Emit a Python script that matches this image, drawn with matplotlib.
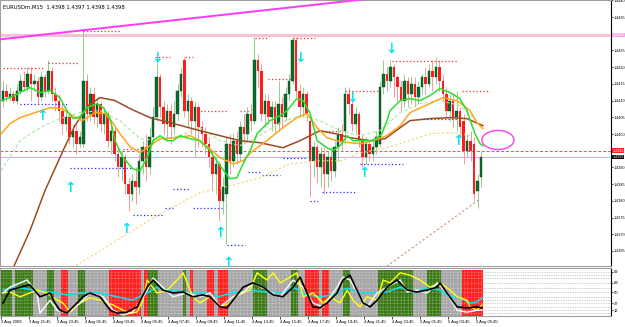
import numpy as np
import matplotlib
matplotlib.use("Agg")
import matplotlib.pyplot as plt
import matplotlib.transforms as mtrans
from matplotlib.patches import Ellipse

# EURUSDm M15, prices stored as pips relative to BASE
BASE = 1.4400

open_pips = [10, 13, 11, 12, 10, 13, 16, 14, 18, 15,
             16, 11, 17, 13, 19, 12, 10, 7, 3, 5,
             -1, 1, -3, -3, 16, 6, 12, 5, 9, 3,
             6, -2, 1, -6, -10, -7, -15, -18, -14, -16,
             -8, -4, -10, -1, 5, 17, 8, 3, 7, 2,
             6, 13, 22, 7, 10, 4, 8, 2, 0, -3,
             -7, -12, -9, -20, -18, -3, -8, -2, -6, 2,
             0, 6, 4, 22, 19, 6, 10, 5, 8, 3,
             9, 5, 12, 16, 28, 13, 8, 12, 4, -8,
             -4, -10, -6, -12, -7, -11, -4, 0, 1, 12,
             9, 3, 6, -2, -7, -3, -6, -4, -3, 14,
             18, 16, 20, 17, 14, 10, 16, 12, 15, 11,
             14, 17, 15, 19, 17, 20, 16, 12, 7, 10,
             5, 7, 4, -5, -2, -3, -17, -13]
close_pips = [13, 11, 12, 10, 13, 16, 14, 18, 15, 16,
              11, 17, 13, 19, 12, 10, 7, 3, 5, -1,
              1, -3, -1, 16, 6, 12, 5, 9, 3, 6,
              -2, 1, -6, -10, -7, -15, -18, -14, -16, -8,
              -4, -10, -1, 5, 17, 8, 3, 7, 2, 6,
              13, 18, 7, 10, 4, 8, 2, 0, -3, -7,
              -12, -9, -20, -16, -3, -8, -2, -6, 2, 0,
              6, 4, 22, 19, 6, 10, 5, 8, 3, 9,
              5, 12, 16, 28, 13, 8, 12, 6, -8, -4,
              -10, -6, -12, -7, -11, -4, 0, -2, 12, 9,
              3, 6, -2, -7, -3, -6, -4, -1, 14, 18,
              16, 20, 17, 14, 10, 16, 12, 15, 11, 14,
              17, 15, 19, 17, 20, 16, 12, 7, 10, 5,
              7, 2, -5, -2, -5, -18, -14, -7]
high_pips = [16, 15, 14, 13, 15, 18, 19, 20, 20, 18,
             17, 19, 18, 22, 20, 14, 12, 9, 7, 6,
             3, 3, 1, 31, 18, 14, 14, 11, 10, 8,
             7, 3, 2, -4, -5, -6, -13, -12, -10, -6,
             -2, 0, 2, 8, 24, 18, 10, 9, 9, 10,
             15, 20, 23, 12, 11, 10, 9, 4, 2, -1,
             -5, -7, -8, -13, -1, 0, 0, 1, 4, 6,
             8, 9, 29, 24, 21, 12, 12, 10, 10, 16,
             11, 14, 18, 29, 29, 15, 14, 13, 5, -2,
             -3, -4, -4, -5, -4, -2, 2, 3, 14, 14,
             13, 8, 7, 0, -1, -2, -2, 1, 16, 22,
             20, 22, 21, 18, 16, 18, 17, 17, 17, 16,
             18, 20, 21, 22, 23, 22, 18, 14, 12, 12,
             13, 8, 6, 0, 1, -1, -12, -5]
low_pips = [8, 10, 10, 9, 9, 12, 13, 13, 10, 13,
            9, 10, 11, 12, 10, 7, 4, 0, 1, -3,
            -4, -6, -4, -4, 4, 4, 3, 2, 1, 0,
            -4, -6, -8, -13, -14, -18, -23, -20, -21, -18,
            -12, -14, -12, -3, 4, 5, 0, -2, -3, 0,
            4, 11, 5, 2, 0, -7, -4, -4, -6, -10,
            -17, -18, -26, -24, -33, -12, -10, -9, -8, -3,
            -2, 1, 3, 14, 4, 2, 3, 1, 0, 1,
            2, 4, 10, 15, 11, 5, 5, 4, -19, -13,
            -15, -16, -18, -16, -14, -13, -8, -5, -3, 6,
            1, 0, -4, -10, -9, -8, -8, -6, -4, 12,
            13, 14, 11, 10, 7, 8, 8, 9, 8, 9,
            12, 12, 14, 13, 15, 13, 10, 5, 4, 2,
            1, -1, -9, -7, -8, -20, -22, -16]

# moving averages as (bar, pips)
ma_fast = [(-0.5, 10), (2, 10.9), (7.7, 13.9), (10.6, 12.4), (13.5, 13), (16.3, 10.9),
           (18.3, 7), (20.1, 4.6), (22.1, 5.2), (24.1, 7.9), (26.9, 9.1), (28.7, 7.9),
           (30.7, 4.6), (32.1, -2), (34.4, -7.1), (37.2, -10.4), (39.3, -11), (41.3, -7.1),
           (43, -2), (45, -0.5), (47, -2), (48.7, -2), (50.7, -0.5), (53.6, -1.4),
           (56.4, -2), (59.3, -5), (62.2, -9.5), (65, -13.4), (67, -13.1), (68.8, -8.9),
           (70.8, -5), (72.8, 0.1), (74.5, 1.9), (76.5, 4), (79.4, 5.5), (81.4, 7),
           (84.2, 10.6), (86, 10), (88, 6.1), (90, -2), (92.8, -4.1), (94.6, -5),
           (96.6, -3.5), (98.6, -0.5), (100.3, -2), (103.2, -2), (106, -2), (108.6, 0.1),
           (110, 4), (110.9, 7), (113.8, 10), (116.6, 10.6), (119.5, 10), (122.3, 11.5),
           (125.2, 13.6), (128.1, 12.4), (130.9, 10.6), (132.9, 7), (135.2, 0.1),
           (136.7, -2.9), (137.5, -3.5)]
ma_mid = [(-0.5, 0.1), (2, 3.1), (4.9, 4.9), (9.2, 6.4), (13.5, 7.9), (16.9, 7.6),
          (19.8, 5.5), (22.6, 4), (26.4, 6.4), (29.2, 6.1), (31.2, 3.7), (33.5, 0.1),
          (36.4, -3.8), (39.3, -5.6), (42.1, -3.5), (45, -1.4), (49.3, -1.1), (53.6, -0.5),
          (56.4, -2), (59.3, -4.4), (62.2, -7.1), (65.9, -8.9), (68.8, -8), (71.6, -5),
          (75.6, -2), (80.2, 1.9), (84.2, 4.9), (87.1, 6.1), (90, 1.9), (92.8, -1.1),
          (96.6, -2.3), (102.3, -2.9), (106, -2), (110, -0.5), (113.8, 2.5), (116.6, 6.4),
          (122.3, 9.1), (126.1, 10.9), (130.1, 10), (133.8, 7), (135.8, 3.4), (137.5, 1.6)]
ma_soft = [(-0.5, -11), (4.9, -2), (10.6, 1.9), (16.3, 4.6), (22.1, 6.4), (27.8, 7),
           (33.5, 4), (39.3, -1.4), (45, -2), (50.7, -0.5), (56.4, 1.9), (62.2, -2),
           (67.9, -3.5), (73.6, -0.5), (79.4, 3.4), (85.1, 5.5), (90.8, 4), (96.6, 1),
           (102.3, -0.5), (108, 1), (113.8, 6.4), (119.5, 9.1), (125.2, 10), (130.9, 8.5),
           (135.2, 4.6)]
ma_long = [(2.9, -40.1), (7.7, -29), (12, -17), (17.2, -5), (20.6, 2.5), (24.4, 8.5),
           (27.8, 10.9), (32.1, 10), (36.4, 7.6), (42.1, 4.9), (49.3, 3), (56.4, 1),
           (62.2, -0.5), (67.9, -2), (73.6, -2.6), (80.2, -4.1), (85.1, -2), (90.8, 1),
           (95.1, 0.1), (99.4, -1.1), (105.2, -2), (109.5, -1.4), (113.8, 1.9), (116.6, 4),
           (122.3, 4.6), (128.1, 4.9), (132.9, 4.6), (137.5, 2.5)]
ma_slow = [(19.8, -40.1), (27.8, -35), (35.5, -29.9), (45, -23.9), (56.4, -17.6),
           (65, -15.5), (73.6, -13.1), (82.2, -8.9), (90.8, -8), (97.4, -8), (101.4, -5.9),
           (110, -4.1), (116.6, -2), (122.3, 0.1), (128.1, 0.4), (130.9, 0.1), (133.8, -0.5)]
channel_low = [(108.9, -40.4), (136.7, -19.4)]
trend_top = [(-1, 28.3), (120, 42.2)]

# dotted levels (bar start, bar end, pips)
resist = [(0, 11.5, 19.9), (12.9, 21.5, 21.1), (22.9, 33.5, 30.7), (34.4, 41.3, -4.4),
          (43.6, 47.9, 22.9), (52.1, 54.4, 22.9), (55.6, 64.5, 7), (65, 67.3, -3.2),
          (67.9, 70.8, 7), (72.2, 75.6, 28.6), (75.9, 82.8, 16.6), (83.1, 89.4, 28.6),
          (90.3, 97.4, 1), (98, 108, 13), (111.5, 130.4, 21.7), (131.5, 139.5, 13)]
support = [(4.9, 18.3, 9.1), (19.2, 37, -10.1), (37.2, 45.8, -24.2), (46.4, 48.7, -22.1),
           (48.7, 53.6, -16.4), (54.4, 62.8, -22.1), (64.2, 69.3, -33.2), (70.2, 73.6, -11.3),
           (74.2, 79.4, -12.2), (80.2, 87.1, -7.1), (88, 90.3, -20), (91.4, 101.4, -17.3),
           (102.3, 114.6, -8.9), (119.5, 130.1, 4.6)]
arrows_up = [(11.2, 5.5), (19.2, -16.1), (35.2, -28.4), (62.2, -29.6), (64.5, -38.6),
             (103.4, -11.6), (130.4, -2)]
arrows_down = [(44.1, 22.9), (85.1, 22.9), (100, 10.9), (111.2, 25.6)]

pink_level = 29.6
red_level = -5.0
bid_level = -6.9
ring = (141.8, -1.8, 9.2, 5.7)  # bar, pips, width bars, height pips

# right scale ticks (1.4430 and 1.4395 sit under the level boxes)
price_ticks = [40, 35, 25, 20, 15, 10, 5, 0, -10, -15, -20, -25, -30, -35]

time_bars = [0, 8, 16, 24, 32, 40, 48, 56, 64, 72, 80, 88, 96, 104, 112, 120, 128, 136]
time_labels = ['3 Aug 2009', '3 Aug 21:45', '3 Aug 23:45', '4 Aug 01:45', '4 Aug 03:45',
               '4 Aug 05:45', '4 Aug 07:45', '4 Aug 09:45', '4 Aug 11:45', '4 Aug 13:45',
               '4 Aug 15:45', '4 Aug 17:45', '4 Aug 19:45', '4 Aug 21:45', '4 Aug 23:45',
               '5 Aug 01:45', '5 Aug 03:45', '5 Aug 05:45']

# oscillator window
zones = list("GGGNGGGGGNNNNGGNNRRNNNGGNNNNNNNRRRRRRRRRNRGGGNNNNNNNGNRNNNNRRNRRR"
             "NNNNNNNGGGGNNNNNNNGGNNRRRRNRRNNNNGGNNNNNNNNGGGGGGGGGGNNNNGGGGNNNNNNRRRRRR")
osc_black = [(0, 27), (2, 54), (4.9, 60), (7.7, 65), (10.6, 40), (13.5, 48), (14.9, 27),
             (16.3, 12), (18.3, 6), (21.2, 27), (22.9, 40), (24.9, 48), (27.8, 40), (30.7, 12),
             (32.7, 6), (35.5, 8), (38.4, 19), (41.3, 60), (43, 75), (45.8, 54), (48.7, 48),
             (51.6, 50), (54.4, 40), (57.3, 44), (59.3, 40), (62.2, 19), (64.2, 17), (65.9, 33),
             (68.8, 60), (71.6, 69), (74.5, 60), (77.4, 44), (80.2, 40), (83.1, 60), (85.1, 81),
             (87.1, 48), (88.8, 19), (90.8, 17), (92.8, 27), (95.7, 48), (97.4, 75), (99.4, 85),
             (101.4, 54), (103.2, 27), (105.2, 19), (107.2, 33), (110, 60), (112.9, 75),
             (115.8, 54), (118.6, 50), (121.5, 54), (124.4, 60), (125.2, 69), (127.2, 48),
             (130.1, 19), (132.9, 17), (135.8, 19), (137.2, 17)]
osc_white = [(0, 48), (2, 60), (6.9, 75), (9.7, 48), (10.6, 6), (13.5, 33), (15.5, 12),
             (18.3, 6), (22.1, 27), (24.9, 48), (28.7, 40), (31.5, 12), (34.4, 2), (37.2, 8),
             (41.3, 54), (43, 79), (45.8, 60), (48.7, 40), (52.7, 48), (56.4, 40), (59.3, 48),
             (62.2, 19), (65.9, 40), (68.8, 48), (71.6, 69), (75.6, 54), (79.4, 40), (83.1, 75),
             (86, 60), (88.8, 27), (91.7, 19), (95.7, 60), (97.4, 81), (99.4, 75), (102.3, 40),
             (104.3, 19), (107.2, 48), (110, 60), (113.8, 75), (115.8, 50), (118.6, 54),
             (121.5, 48), (124.4, 69), (127.2, 48), (130.1, 12), (132.9, 8), (135.8, 12),
             (137.2, 12)]
osc_cyan = [(0, 54), (4, 60), (8.6, 54), (13.5, 50), (18.3, 44), (22.9, 48), (27.8, 48),
            (32.7, 40), (37.2, 33), (41.3, 48), (44.1, 60), (48.7, 54), (53.6, 48), (58.5, 48),
            (61.3, 40), (65.9, 48), (70.8, 54), (75.6, 50), (80.2, 48), (83.1, 60), (87.1, 44),
            (90.8, 40), (94.6, 44), (98.6, 58), (102.3, 48), (106, 48), (110, 50), (113.8, 60),
            (117.5, 50), (121.5, 58), (125.2, 54), (128.1, 40), (130.9, 38), (133.8, 27),
            (135.8, 29), (137.2, 38)]
osc_yellow = [(0, 48), (2, 50), (4.9, 40), (7.7, 48), (9.7, 54), (12.6, 48), (14.3, 38),
              (17.2, 27), (19.2, 8), (22.1, 27), (24.9, 38), (27.8, 33), (31.5, 23), (34.4, 12),
              (36.4, 6), (38.4, 8), (40.1, 33), (41.3, 75), (44.1, 48), (47, 54), (49.9, 75),
              (51.6, 90), (54.4, 40), (56.4, 27), (59.3, 40), (62.2, 19), (65, 27), (67.9, 48),
              (70.8, 54), (72.8, 90), (75.6, 75), (77.4, 90), (79.4, 69), (82.2, 81), (84.2, 90),
              (86, 40), (88.8, 48), (91.7, 27), (93.7, 40), (96.6, 27), (98.6, 54), (100.3, 33),
              (102.3, 19), (104.3, 40), (107.2, 33), (108.9, 75), (110.9, 69), (113.8, 90),
              (116.6, 85), (119.5, 75), (122.3, 60), (125.2, 69), (128.1, 54), (130.1, 40),
              (132.9, 33), (133.8, 19), (135.8, 12), (137.2, 23)]
osc_levels = [92, 85, 79, 69, 58, 50, 40, 33, 27, 19, 12, 6]
osc_ticks = [92, 69, 50, 27, 12]


def px(p):
    return BASE + np.asarray(p, dtype=float) / 10000.0


W, H = 625, 327
fig = plt.figure(figsize=(6.25, 3.27), dpi=100)


def rect(x0, y0, x1, y1):
    return [x0 / W, 1 - y1 / H, (x1 - x0) / W, (y1 - y0) / H]


ax = fig.add_axes(rect(0, 0, 611, 266))
sub = fig.add_axes(rect(0, 268, 611, 316))
XL = (-0.86, 174.2)
SMALL = 2.7
NARROW = ['Liberation Sans', 'DejaVu Sans']

# ---- main price window
o, c, h, l = px(open_pips), px(close_pips), px(high_pips), px(low_pips)
x = np.arange(len(o))
up = c >= o
ax.vlines(x[up], l[up], h[up], color='#8fcf8f', lw=0.7, zorder=2)
ax.vlines(x[~up], l[~up], h[~up], color='#f59a9a', lw=0.7, zorder=2)
ax.bar(x[up], c[up] - o[up], bottom=o[up], width=0.72, color='#0a6e2a',
       edgecolor='#04401a', lw=0.3, zorder=3)
ax.bar(x[~up], o[~up] - c[~up], bottom=c[~up], width=0.72, color='#ff1c1c', lw=0, zorder=3)

ax.axhline(px(pink_level), color='#f2c4d6', lw=2.2, zorder=1)
ax.axhline(px(red_level), color='#e85050', lw=0.7, ls=(0, (3, 2)), zorder=1)
ax.axhline(px(bid_level), color='#60e8ec', lw=0.7, zorder=1)

tx, ty = zip(*trend_top)
ax.plot(tx, px(ty), color='#ff3cf5', lw=1.4, zorder=4)

for pts, col, lw, ls in [(ma_slow, '#f5d27a', 0.8, (0, (2, 2))),
                         (channel_low, '#c8967a', 0.8, (0, (2, 2))),
                         (ma_soft, '#a8e8a0', 0.8, (0, (3, 2))),
                         (ma_long, '#9c4a22', 1.1, '-'),
                         (ma_mid, '#ffa51c', 1.1, '-'),
                         (ma_fast, '#2ae02a', 1.1, '-')]:
    bx, by = zip(*pts)
    ax.plot(bx, px(by), color=col, lw=lw, ls=ls, zorder=5)

for b0, b1, p in resist:
    ax.plot([b0, b1], px([p, p]), color='#ff2a2a', lw=0.9, ls=(0, (1, 1.8)), zorder=4)
for b0, b1, p in support:
    ax.plot([b0, b1], px([p, p]), color='#2a2aff', lw=0.9, ls=(0, (1, 1.8)), zorder=4)

for b, p in arrows_up:
    ax.text(b, px(p), '\u2191', color='#12e0f0', fontsize=10, fontweight='bold',
            ha='center', va='center', zorder=6)
for b, p in arrows_down:
    ax.text(b, px(p), '\u2193', color='#12e0f0', fontsize=10, fontweight='bold',
            ha='center', va='center', zorder=6)

ax.add_patch(Ellipse((ring[0], px(ring[1])), ring[2], ring[3] / 10000.0,
                     fill=False, edgecolor='#ff3cf5', lw=1.0, zorder=6))

ax.set_xlim(*XL)
ax.set_ylim(px(-39.5), px(40.1))
ax.set_xticks([])
ax.yaxis.tick_right()
ax.set_yticks(px(price_ticks))
ax.set_yticklabels(['%.4f' % v for v in px(price_ticks)], family=NARROW)
ax.tick_params(axis='y', labelsize=SMALL, length=1.5, width=0.5, pad=0.4)

tr = mtrans.blended_transform_factory(ax.transAxes, ax.transData)
for lev, txt, fc in [(pink_level, '1.4430', '#f7a8ee'),
                     (red_level, '1.4395', '#ff2020'),
                     (bid_level, '1.4393', '#000000')]:
    ax.text(1.0025, px(lev), txt, transform=tr, fontsize=SMALL, color='white',
            family=NARROW, va='center', ha='left', clip_on=False, zorder=10,
            bbox=dict(boxstyle='square,pad=0.1', fc=fc, ec='none'))

for side in ['top', 'left', 'bottom']:
    ax.spines[side].set_color('#a0a0a0')
    ax.spines[side].set_linewidth(0.8)
ax.spines['right'].set_color('black')
ax.spines['right'].set_linewidth(0.8)

fig.text(3 / W, 1 - 7 / H, 'EURUSDm,M15  1.4398 1.4397 1.4398 1.4398',
         fontsize=3.8, va='center', ha='left')

# ---- oscillator window
zone_col = {'G': '#3b7a16', 'R': '#ff2020', 'N': '#a6a6a6'}
zx = np.arange(len(zones))
last = len(zones) - 0.5
for lv in osc_levels:
    sub.axhline(lv, color='#a0a0a0', lw=0.5, ls=(0, (1, 1.5)), zorder=0)
sub.bar(zx, 96, bottom=0, width=1.0, color=[zone_col[z] for z in zones], lw=0, zorder=1)
sub.vlines(zx, 0, 96, color='white', lw=0.4, ls=(0, (1, 1.5)), alpha=0.6, zorder=2)
sub.hlines(osc_levels, -0.5, last, color='white', lw=0.4, ls=(0, (1, 1.5)), alpha=0.7, zorder=2)

for pts, col, lw in [(osc_cyan, '#10e0ee', 1.1), (osc_yellow, '#ffff10', 1.0),
                     (osc_white, '#f4f4f4', 1.1), (osc_black, '#000000', 1.2)]:
    bx, by = zip(*pts)
    sub.plot(bx, by, color=col, lw=lw, zorder=4)

sub.set_xlim(*XL)
sub.set_ylim(0, 100)
sub.yaxis.tick_right()
sub.set_yticks(osc_ticks)
sub.set_yticklabels([str(t) for t in osc_ticks], family=NARROW)
sub.tick_params(axis='y', labelsize=3.0, length=1.5, width=0.5, pad=0.4)
sub.set_xticks(np.array(time_bars) - 0.6)
sub.set_xticklabels(time_labels, ha='left', family=NARROW)
sub.tick_params(axis='x', labelsize=3.0, length=2, width=0.5, pad=1)
for side in ['top', 'left', 'bottom']:
    sub.spines[side].set_color('#a0a0a0')
    sub.spines[side].set_linewidth(0.8)
sub.spines['right'].set_color('black')
sub.spines['right'].set_linewidth(0.8)

fig.savefig('out.png', dpi=100)
